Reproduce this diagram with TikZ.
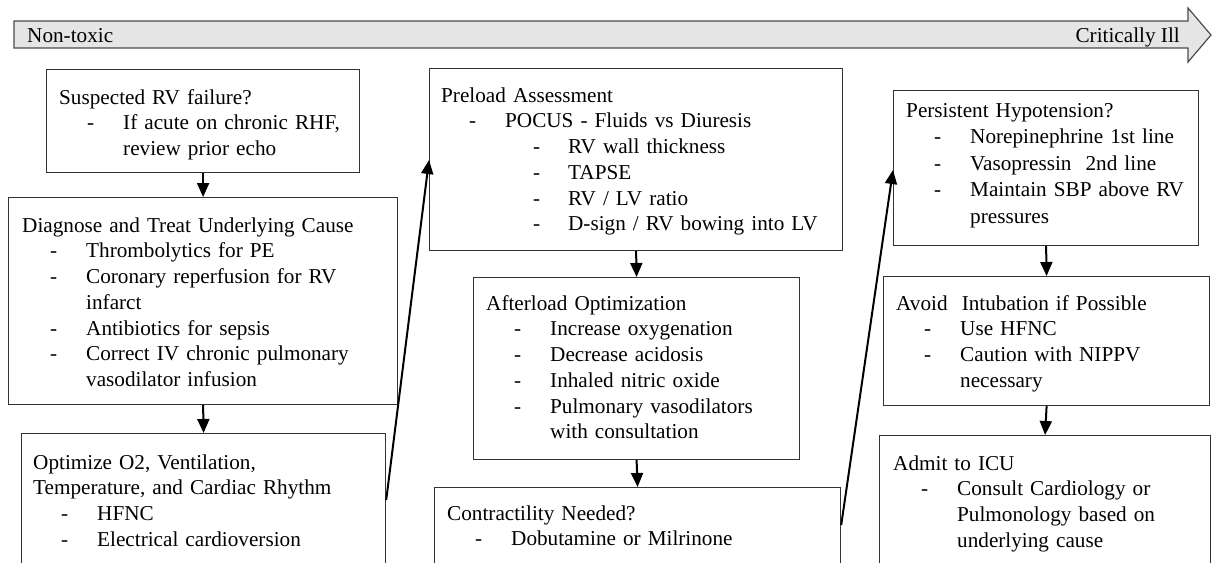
\documentclass[tikz,border=0pt]{standalone}
\usepackage{fontspec}
\setmainfont{Liberation Serif}
\usetikzlibrary{arrows.meta}
\newcommand{\bl}[1]{\hspace*{28pt}\makebox[36pt][l]{-}#1}
\newcommand{\blb}[1]{\hspace*{92pt}\makebox[35pt][l]{-}#1}
\newcommand{\cn}[1]{\hspace*{64pt}#1}
\newcommand{\cnb}[1]{\hspace*{127pt}#1}
\tikzset{
  box/.style={draw=black!80, line width=1.2pt, inner sep=0pt, anchor=north west, rectangle},
  txt/.style={anchor=north west, inner sep=0pt, text width=440pt, align=left, font=\fontsize{21.2}{25.7}\selectfont},
  lbl/.style={inner sep=0pt, font=\fontsize{21.2}{25.7}\selectfont},
  arr/.style={draw=black, line width=2pt, -{Triangle[length=14pt,width=12pt]}},
  banner/.style={fill=black!10, draw=black!70, line width=1.2pt}
}
\begin{document}
\begin{tikzpicture}[x=1pt,y=-1pt]
\useasboundingbox (0,0) rectangle (1212,562);
\clip (0,0) rectangle (1212,562);
% banner
\draw[banner] (14,21) -- (1188,21) -- (1188,8) -- (1211,35) -- (1188,62) -- (1188,48) -- (14,48) -- cycle;
\node[lbl, anchor=base west] (nt) at (27,42.5) {Non-toxic};
\node[lbl, anchor=base east] (ci) at (1180,42.5) {Critically Ill};
% boxes
\node[box, minimum width=313pt, minimum height=103pt] (A) at (46,69) {};
\node[box, minimum width=389pt, minimum height=207pt] (B) at (8,197) {};
\node[box, minimum width=364pt, minimum height=160pt] (C) at (21,433) {};
\node[box, minimum width=413pt, minimum height=182pt] (D) at (429,68) {};
\node[box, minimum width=326pt, minimum height=182pt] (E) at (473,277) {};
\node[box, minimum width=406pt, minimum height=120pt] (F) at (434,487) {};
\node[box, minimum width=305pt, minimum height=155pt] (G) at (893,90) {};
\node[box, minimum width=326pt, minimum height=129pt] (H) at (883,276) {};
\node[box, minimum width=331pt, minimum height=150pt] (I) at (879,435) {};
% texts
\node[txt] (At) at (59,89) {\rule{0pt}{15pt}Suspected RV failure?\\
\bl{If acute on chronic RHF,}\\
\cn{review prior echo}};
\node[txt] (Bt) at (22,217) {\rule{0pt}{15pt}Diagnose and Treat Underlying Cause\\
\bl{Thrombolytics for PE}\\
\bl{Coronary reperfusion for RV}\\
\cn{infarct}\\
\bl{Antibiotics for sepsis}\\
\bl{Correct IV chronic pulmonary}\\
\cn{vasodilator infusion}};
\node[txt] (Ct) at (33,454) {\rule{0pt}{15pt}Optimize O2, Ventilation,\\
Temperature, and Cardiac Rhythm\\
\bl{HFNC}\\
\bl{Electrical cardioversion}};
\node[txt] (Dt) at (441,87) {\rule{0pt}{15pt}Preload Assessment\\
\bl{POCUS - Fluids vs Diuresis}\\
\blb{RV wall thickness}\\
\blb{TAPSE}\\
\blb{RV / LV ratio}\\
\blb{D-sign / RV bowing into LV}};
\node[txt] (Et) at (486,295) {\rule{0pt}{15pt}Afterload Optimization\\
\bl{Increase oxygenation}\\
\bl{Decrease acidosis}\\
\bl{Inhaled nitric oxide}\\
\bl{Pulmonary vasodilators}\\
\cn{with consultation}};
\node[txt] (Ft) at (447,505) {\rule{0pt}{15pt}Contractility Needed?\\
\bl{Dobutamine or Milrinone}};
\node[txt, font=\fontsize{21.2}{26.5}\selectfont] (Gt) at (906,102) {\rule{0pt}{15pt}Persistent Hypotension?\\
\bl{Norepinephrine 1st line}\\
\bl{Vasopressin\ \ 2nd line}\\
\bl{Maintain SBP above RV}\\
\cn{pressures}};
\node[txt] (Ht) at (896,295) {\rule{0pt}{15pt}Avoid\ \ Intubation if Possible\\
\bl{Use HFNC}\\
\bl{Caution with NIPPV}\\
\cn{necessary}};
\node[txt] (It) at (893,455) {\rule{0pt}{15pt}Admit to ICU\\
\bl{Consult Cardiology or}\\
\cn{Pulmonology based on}\\
\cn{underlying cause}};
% connectors
\draw[arr] (A.south) -- (B.north);
\draw[arr] (B.south) -- (C.north);
\draw[arr] ([yshift=-67pt]C.north east) -- ([yshift=-92pt]D.north west);
\draw[arr] (D.south) -- (E.north);
\draw[arr] (E.south) -- (F.north);
\draw[arr] ([yshift=-38pt]F.north east) -- ([yshift=-80pt]G.north west);
\draw[arr] (G.south) -- (H.north);
\draw[arr] (H.south) -- (I.north);
\end{tikzpicture}
\end{document}
